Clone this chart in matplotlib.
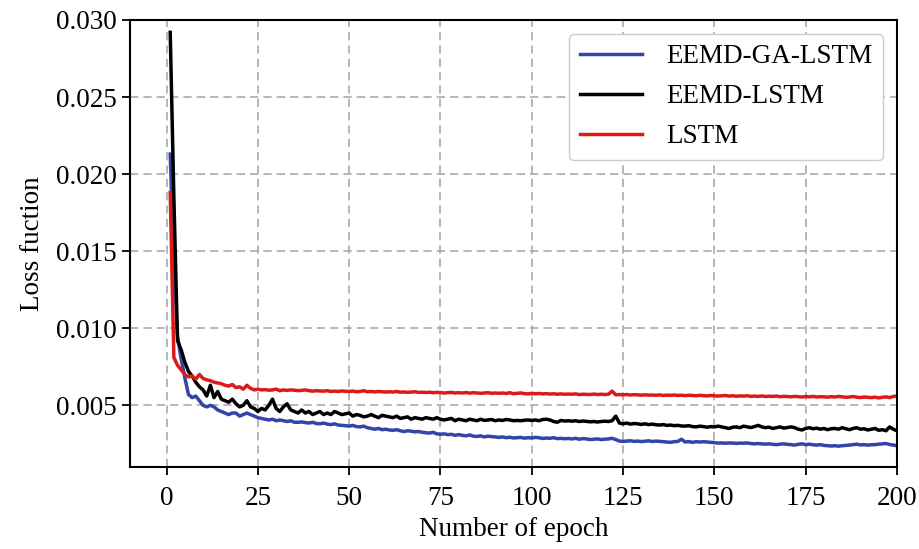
import numpy as np
import matplotlib.pyplot as plt

plt.rcParams['font.family'] = ['Liberation Serif', 'DejaVu Serif']

# loss values, units of 1e-3, epochs 1..200
eemd_ga_lstm = [
    21.3, 14.0, 9.5, 8.0, 6.8, 5.7, 5.5, 5.6, 5.3, 5.0,
    4.9, 5.0, 4.9, 4.7, 4.6, 4.5, 4.4, 4.5, 4.5, 4.3,
    4.4, 4.5, 4.4, 4.3, 4.2, 4.15, 4.1, 4.05, 4.1, 4.0,
    4.05, 4.0, 3.95, 4.0, 3.9, 3.9, 3.92, 3.88, 3.85, 3.9,
    3.82, 3.8, 3.85, 3.78, 3.75, 3.8, 3.72, 3.7, 3.68, 3.65,
    3.7, 3.62, 3.6, 3.65, 3.55, 3.5, 3.45, 3.5, 3.42, 3.45,
    3.4, 3.38, 3.42, 3.35, 3.3, 3.35, 3.32, 3.28, 3.3, 3.25,
    3.22, 3.2, 3.25, 3.15, 3.12, 3.15, 3.1, 3.12, 3.05, 3.1,
    3.05, 3.02, 3.08, 3.0, 2.98, 3.02, 2.95, 3.0, 2.97, 2.95,
    2.92, 2.95, 2.9, 2.93, 2.88, 2.9, 2.92, 2.87, 2.9, 2.88,
    2.92, 2.9, 2.85, 2.88, 2.86, 2.9, 2.84, 2.86, 2.83, 2.85,
    2.82, 2.86, 2.8, 2.84, 2.82, 2.78, 2.8, 2.82, 2.78, 2.8,
    2.82, 2.86, 2.78, 2.68, 2.66, 2.68, 2.7, 2.66, 2.68, 2.65,
    2.67, 2.7, 2.65, 2.68, 2.66, 2.64, 2.62, 2.6, 2.64, 2.66,
    2.8, 2.62, 2.65, 2.6, 2.64, 2.62, 2.64, 2.62, 2.6, 2.58,
    2.55, 2.56, 2.54, 2.56, 2.55, 2.53, 2.55, 2.54, 2.56, 2.52,
    2.5, 2.52, 2.5, 2.48, 2.5, 2.47, 2.45, 2.48, 2.5, 2.47,
    2.45, 2.42, 2.47, 2.5, 2.45, 2.48, 2.44, 2.42, 2.45, 2.4,
    2.38, 2.36, 2.38, 2.35, 2.38, 2.4, 2.42, 2.45, 2.48, 2.43,
    2.45, 2.42, 2.44, 2.45, 2.48, 2.5, 2.52, 2.46, 2.42, 2.38,
]
eemd_lstm = [
    29.2, 18.5, 9.2, 8.6, 7.8, 7.2, 6.9, 6.5, 6.2, 6.0,
    5.6, 6.3, 5.5, 5.9, 5.4, 5.3, 5.2, 5.4, 5.1, 4.9,
    5.0, 5.3, 4.9, 4.8, 4.6, 4.8, 4.7, 5.0, 5.4, 4.8,
    4.6, 4.9, 5.1, 4.7, 4.6, 4.5, 4.7, 4.5, 4.6, 4.4,
    4.5, 4.6, 4.4, 4.5, 4.4, 4.6, 4.5, 4.4, 4.45, 4.5,
    4.3, 4.4, 4.35, 4.25, 4.3, 4.4, 4.3, 4.2, 4.35, 4.3,
    4.25, 4.2, 4.3, 4.15, 4.2, 4.25, 4.1, 4.2, 4.15, 4.1,
    4.2, 4.15, 4.1, 4.2, 4.1, 4.05, 4.1, 4.15, 4.0, 4.1,
    4.05, 4.0, 4.1, 4.05, 4.0, 4.1, 4.02, 4.05, 4.08, 4.0,
    4.05, 4.02, 4.08, 4.05, 4.0, 4.02, 4.0, 4.03, 4.05, 4.02,
    4.05, 4.0, 4.08, 4.1, 4.05, 3.95, 3.9, 4.02, 3.98, 4.0,
    3.97, 4.0, 3.95, 3.98, 3.96, 3.93, 3.95, 3.92, 3.95, 3.97,
    3.95, 4.0, 4.3, 3.85, 3.8, 3.85, 3.78, 3.82, 3.8, 3.76,
    3.8, 3.75, 3.78, 3.74, 3.72, 3.75, 3.7, 3.72, 3.68, 3.7,
    3.66, 3.65, 3.68, 3.62, 3.6, 3.65, 3.62, 3.58, 3.62, 3.6,
    3.65, 3.6, 3.55, 3.5, 3.58, 3.6, 3.55, 3.65, 3.6, 3.56,
    3.62, 3.7, 3.6, 3.55, 3.58, 3.5, 3.55, 3.6, 3.52, 3.56,
    3.6, 3.55, 3.45, 3.4, 3.5, 3.55, 3.48, 3.52, 3.45, 3.5,
    3.42, 3.48, 3.5, 3.45, 3.55, 3.48, 3.42, 3.5, 3.55, 3.45,
    3.48, 3.4, 3.45, 3.5, 3.38, 3.42, 3.35, 3.6, 3.45, 3.35,
]
lstm = [
    18.8, 8.1, 7.6, 7.3, 7.0, 6.85, 6.9, 6.7, 7.0, 6.75,
    6.65, 6.6, 6.5, 6.45, 6.4, 6.3, 6.25, 6.35, 6.15, 6.2,
    6.05, 6.3, 6.1, 6.0, 6.05, 6.0, 6.02, 5.98, 6.0, 6.05,
    5.95, 6.0, 5.97, 6.0, 5.98, 5.95, 5.97, 6.0, 5.95, 5.92,
    5.95, 5.93, 5.92, 5.95, 5.9, 5.92, 5.9, 5.93, 5.91, 5.9,
    5.92, 5.88, 5.9, 5.95, 5.88, 5.9, 5.87, 5.9, 5.88, 5.86,
    5.88, 5.86, 5.9, 5.85, 5.87, 5.84, 5.86, 5.88, 5.84, 5.85,
    5.83, 5.85, 5.82, 5.84, 5.83, 5.8, 5.82, 5.84, 5.8, 5.82,
    5.8, 5.83, 5.79, 5.82, 5.8, 5.78, 5.8, 5.82, 5.78, 5.8,
    5.78, 5.8, 5.77, 5.82, 5.75, 5.78, 5.8, 5.76, 5.74, 5.78,
    5.75, 5.77, 5.74, 5.76, 5.73, 5.75, 5.72, 5.74, 5.72, 5.73,
    5.72, 5.74, 5.7, 5.72, 5.71, 5.7, 5.73, 5.7, 5.72, 5.7,
    5.72, 5.92, 5.68, 5.7, 5.68, 5.7, 5.67, 5.69, 5.68, 5.66,
    5.68, 5.66, 5.67, 5.65, 5.68, 5.64, 5.66, 5.65, 5.67, 5.64,
    5.66, 5.63, 5.65, 5.64, 5.62, 5.65, 5.63, 5.61, 5.64, 5.62,
    5.6, 5.62, 5.64, 5.6, 5.62, 5.59, 5.61, 5.6, 5.62, 5.58,
    5.6, 5.58, 5.61, 5.57, 5.59, 5.58, 5.6, 5.56, 5.58, 5.57,
    5.55, 5.58, 5.56, 5.54, 5.57, 5.55, 5.58, 5.54, 5.56, 5.55,
    5.53, 5.56, 5.54, 5.58, 5.55, 5.52, 5.54, 5.57, 5.53, 5.5,
    5.54, 5.52, 5.5, 5.53, 5.48, 5.52, 5.55, 5.5, 5.58, 5.6,
]
epochs = np.arange(1, len(lstm) + 1)

fig = plt.figure(figsize=(9.19, 5.49), dpi=100)
ax = fig.add_axes([0.1415, 0.1494, 0.8345, 0.8142])

ax.plot(epochs, np.array(eemd_ga_lstm) * 1e-3, color='#3344aa', lw=2.5, label='EEMD-GA-LSTM')
ax.plot(epochs, np.array(eemd_lstm) * 1e-3, color='black', lw=2.5, label='EEMD-LSTM')
ax.plot(epochs, np.array(lstm) * 1e-3, color='#dd1a1a', lw=2.5, label='LSTM')

ax.set_xlim(-10, 200)
ax.set_ylim(0.001, 0.030)
ax.set_xticks([0, 25, 50, 75, 100, 125, 150, 175, 200])
ax.set_yticks([0.005, 0.010, 0.015, 0.020, 0.025, 0.030])
ax.yaxis.set_major_formatter(plt.FormatStrFormatter('%.3f'))
ax.grid(True, color='#aaaaaa', ls=(0, (5, 3)), lw=1.2)
ax.tick_params(labelsize=19.5, width=1.3, length=6)
ax.tick_params(axis='x', pad=8)
for s in ax.spines.values():
    s.set_linewidth(1.5)

ax.set_xlabel('Number of epoch', fontsize=19.5, labelpad=4)
ax.set_ylabel('Loss fuction', fontsize=19.5, labelpad=8)
ax.legend(loc='upper right', fontsize=19.5, handlelength=2.3, borderpad=0.4,
          labelspacing=0.55, handletextpad=0.9, edgecolor='#cccccc', framealpha=1)

fig.savefig('out.png', dpi=100)
